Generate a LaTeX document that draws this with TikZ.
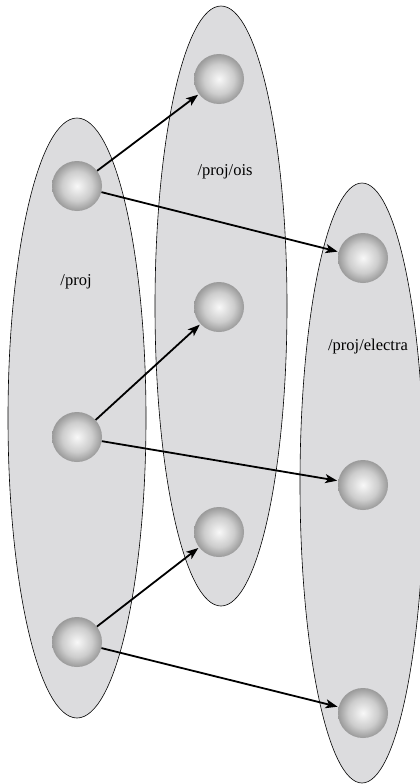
\documentclass[tikz,border=0pt]{standalone}
\usepackage{fontspec}
\setmainfont{Liberation Serif}
\usetikzlibrary{arrows.meta}
\definecolor{ballin}{HTML}{F8F8F8}
\definecolor{ballmid}{HTML}{CDCDCD}
\definecolor{ballout}{HTML}{9A9A9A}
\pgfdeclareradialshading{myball}{\pgfpoint{0bp}{0bp}}{color(0bp)=(ballin); color(15bp)=(ballmid); color(25bp)=(ballout); color(50bp)=(ballout)}
\begin{document}
\begin{tikzpicture}[x=1pt,y=-1pt,
  region/.style={fill=regionfill},
  ball/.style={circle,minimum size=50pt,inner sep=0pt,shading=myball},
  link/.style={line width=1.8pt,-{Stealth[length=12pt,width=9pt,inset=3pt]},shorten >=1pt},
  lbl/.style={font=\fontsize{16.5}{19}\selectfont}]
\definecolor{regionfill}{HTML}{DCDCDE}
\useasboundingbox (0,0) rectangle (420,784);
\fill[region] (77,418) ellipse [x radius=69,y radius=300];
\fill[region] (221,306) ellipse [x radius=66,y radius=300];
\fill[region] (362,483) ellipse [x radius=62,y radius=300];
\draw[line width=0.6pt] (77,418) ellipse [x radius=69,y radius=300];
\draw[line width=0.6pt] (221,306) ellipse [x radius=66,y radius=300];
\draw[line width=0.6pt] (362,483) ellipse [x radius=62,y radius=300];
\node[lbl] (t1) at (76,282) {/proj};
\node[lbl] (t2) at (225,172) {/proj/ois};
\node[lbl] (t3) at (368,347) {/proj/electra};
\node[ball] (a1) at (77,186) {};
\node[ball] (a2) at (77,437) {};
\node[ball] (a3) at (77,642) {};
\node[ball] (b1) at (219,79) {};
\node[ball] (b2) at (219,307) {};
\node[ball] (b3) at (219,532) {};
\node[ball] (c1) at (363,258) {};
\node[ball] (c2) at (363,485) {};
\node[ball] (c3) at (363,713) {};
\draw[link] (a1) -- (b1);
\draw[link] (a1) -- (c1);
\draw[link] (a2) -- (b2);
\draw[link] (a2) -- (c2);
\draw[link] (a3) -- (b3);
\draw[link] (a3) -- (c3);
\end{tikzpicture}
\end{document}
